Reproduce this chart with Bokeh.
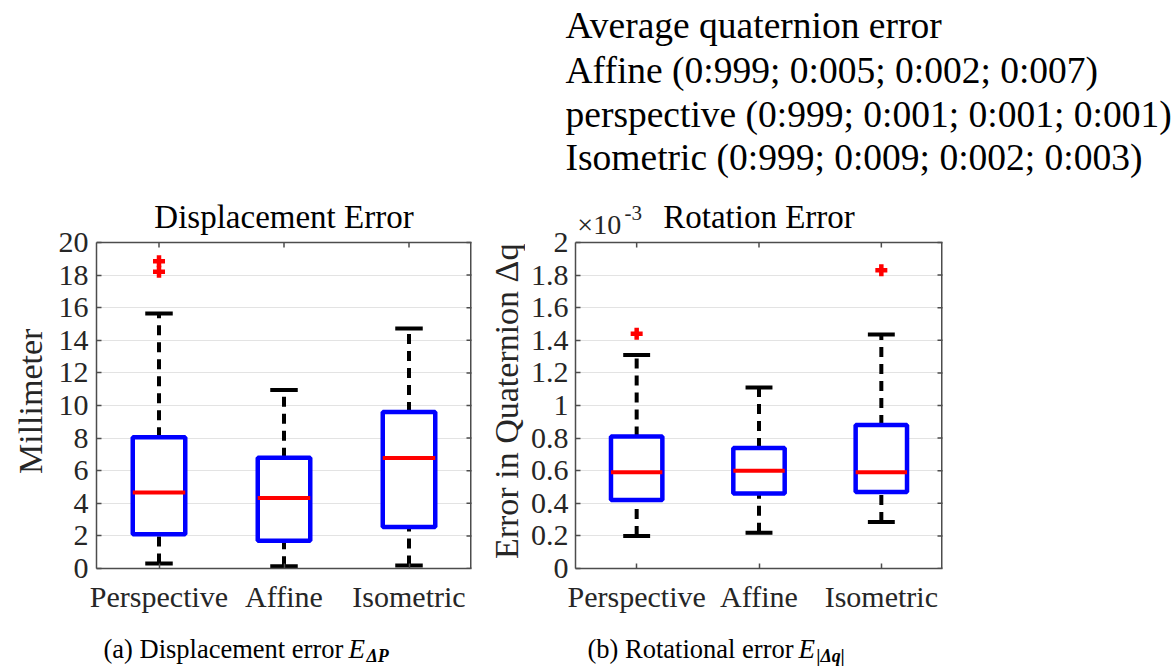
import math
from bokeh.plotting import figure
from bokeh.layouts import column, row
from bokeh.models import Range1d, FixedTicker, CustomJSTickFormatter, ColumnDataSource
from bokeh.core.properties import value
from bokeh.embed import file_html
from bokeh.resources import INLINE

# ---------------- data ----------------
cats = ["Perspective", "Affine", "Isometric"]

# Displacement error (millimeter)
disp_q1 = [2.1, 1.7, 2.55]
disp_med = [4.67, 4.33, 6.78]
disp_q3 = [8.05, 6.8, 9.6]
disp_lo = [0.3, 0.14, 0.18]
disp_hi = [15.65, 10.95, 14.73]
disp_out_cat = ["Perspective", "Perspective"]
disp_out_val = [18.2, 18.85]
disp_ticks = [0, 2, 4, 6, 8, 10, 12, 14, 16, 18, 20]

# Rotation error (values in units of 1e-3)
rot_q1 = [0.42, 0.46, 0.47]
rot_med = [0.59, 0.60, 0.59]
rot_q3 = [0.81, 0.74, 0.88]
rot_lo = [0.20, 0.22, 0.285]
rot_hi = [1.31, 1.11, 1.435]
rot_out_cat = ["Perspective", "Isometric"]
rot_out_val = [1.44, 1.83]
rot_ticks = [0, 0.2, 0.4, 0.6, 0.8, 1.0, 1.2, 1.4, 1.6, 1.8, 2.0]

titles = ["Displacement Error", "Rotation Error"]
ylabels = ["Millimeter", "Error in Quaternion \u0394q"]
info_lines = [
    "Average quaternion error",
    "Affine (0:999; 0:005; 0:002; 0:007)",
    "perspective (0:999; 0:001; 0:001; 0:001)",
    "Isometric (0:999; 0:009; 0:002; 0:003)",
]
captions = ["(a) Displacement error", "(b) Rotational error"]
cap_subs = ["\u0394P", "|\u0394q|"]

FONT = "Liberation Serif"
AX = "#262626"
FR = "#4d4d4d"

TOP_H = 195          # height of the text strip above the plots
FIG_H = 435          # height of each plot figure
BOT = 62             # bottom border of plot figures
BOX_H = 326          # pixel height of the axes box (0..ymax)
FRAME_H = FIG_H - BOT  # frame extends above the box to hold the titles


def strip(width, height, flip=True):
    f = figure(width=width, height=height, x_range=Range1d(0, width),
               y_range=Range1d(height, 0) if flip else Range1d(0, height),
               x_axis_type=None, y_axis_type=None, output_backend="svg",
               toolbar_location=None, min_border=0)
    f.outline_line_color = None
    return f


def ylabel_fig(width, xpos, text):
    f = strip(width, FIG_H, flip=False)
    f.text(x=[xpos], y=[BOT + BOX_H / 2 - 30], text=[text], angle=math.pi / 2,
           text_font=value(FONT), text_font_size="34px", text_baseline="middle",
           text_align="center", text_color=AX)
    return f


def boxplot(title, q1, med, q3, lo, hi, out_cat, out_val, ticks, ymax,
            width, left, right, fmt=None, tick_standoff=8):
    pos = list(range(1, len(cats) + 1))
    top_val = ymax * FRAME_H / BOX_H

    def above(px):  # pixel distance above the box bottom -> data y
        return ymax * px / BOX_H

    p = figure(width=width, height=FIG_H, x_range=Range1d(0.5, 3.5),
               y_range=Range1d(0, top_val), output_backend="svg", toolbar_location=None,
               min_border_left=left, min_border_right=right, min_border_top=0,
               min_border_bottom=BOT)
    p.outline_line_color = None
    p.background_fill_color = "white"
    p.border_fill_color = "white"

    p.xaxis.ticker = FixedTicker(ticks=pos)
    p.xaxis.major_label_overrides = {i: c for i, c in zip(pos, cats)}
    p.yaxis.ticker = FixedTicker(ticks=ticks)
    p.yaxis.bounds = (0, ymax)
    if fmt is not None:
        p.yaxis.formatter = fmt
    for ax in (p.xaxis[0], p.yaxis[0]):
        ax.axis_line_color = FR
        ax.axis_line_width = 1.5
        ax.major_tick_line_color = FR
        ax.major_tick_line_width = 1.5
        ax.major_tick_in = 5
        ax.major_tick_out = 0
        ax.minor_tick_line_color = None
        ax.major_label_text_font = FONT
        ax.major_label_text_font_size = "30px"
        ax.major_label_text_color = AX
    p.xaxis.major_label_standoff = 11
    p.yaxis.major_label_standoff = tick_standoff
    p.xgrid.grid_line_color = None
    p.ygrid.ticker = FixedTicker(ticks=ticks)
    p.ygrid.grid_line_color = "#e3e3e3"
    p.ygrid.grid_line_width = 1

    # box outline (top and right edges; left/bottom are the axis lines)
    p.segment(x0=[0.5], y0=[ymax], x1=[3.5], y1=[ymax], line_color=FR, line_width=1.5)
    p.segment(x0=[3.5], y0=[0], x1=[3.5], y1=[ymax], line_color=FR, line_width=3)
    # tick marks on the right and top edges
    p.scatter(x=[3.5] * len(ticks), y=ticks, marker="dash", size=10, line_color=FR,
              line_width=1.5)
    p.segment(x0=pos, y0=[ymax] * len(pos), x1=pos, y1=[ymax - above(5)] * len(pos),
              line_color=FR, line_width=1.5)

    bw = 0.42
    cw = 0.22
    src = ColumnDataSource(dict(
        x=pos, q1=q1, med=med, q3=q3, lo=lo, hi=hi,
        bl=[x - bw / 2 for x in pos], br=[x + bw / 2 for x in pos],
        cl=[x - cw / 2 for x in pos], cr=[x + cw / 2 for x in pos],
    ))
    # whiskers (dashed)
    p.segment(x0="x", y0="q3", x1="x", y1="hi", source=src, line_color="black",
              line_width=4, line_dash="10 7")
    p.segment(x0="x", y0="lo", x1="x", y1="q1", source=src, line_color="black",
              line_width=4, line_dash="10 7")
    # caps
    p.segment(x0="cl", y0="hi", x1="cr", y1="hi", source=src, line_color="black", line_width=4)
    p.segment(x0="cl", y0="lo", x1="cr", y1="lo", source=src, line_color="black", line_width=4)
    # boxes
    p.vbar(x="x", width=bw, bottom="q1", top="q3", source=src, fill_color="white",
           line_color="#0000ff", line_width=4.5)
    # medians
    p.segment(x0="bl", y0="med", x1="br", y1="med", source=src, line_color="#ff0000",
              line_width=4)
    # outliers
    ox = [cats.index(c) + 1 for c in out_cat]
    p.scatter(x=ox, y=out_val, marker="cross", size=12, line_color="#ff0000", line_width=4.5)

    # title above the box
    p.text(x=[2.0], y=[above(352)], text=[title], text_font=value(FONT),
           text_font_size="33px", text_baseline="middle", text_align="center",
           text_color="black")
    return p, above


left, _ = boxplot(titles[0], disp_q1, disp_med, disp_q3, disp_lo, disp_hi,
                  disp_out_cat, disp_out_val, disp_ticks, 20, 430, 46, 9)

rot_fmt = CustomJSTickFormatter(code="return Number(tick.toFixed(1)).toString();")
right, r_above = boxplot(titles[1], rot_q1, rot_med, rot_q3, rot_lo, rot_hi,
                         rot_out_cat, rot_out_val, rot_ticks, 2, 651, 50, 234,
                         fmt=rot_fmt, tick_standoff=7)
# exponent of the rotation axis
right.text(x=[0.515], y=[r_above(344)], text=["\u00d710"], text_font=value(FONT),
           text_font_size="28px", text_baseline="middle", text_color=AX)
right.text(x=[0.9], y=[r_above(356)], text=["-3"], text_font=value(FONT),
           text_font_size="21px", text_baseline="middle", text_color=AX)

lab_left = ylabel_fig(50, 30, ylabels[0])
lab_right = ylabel_fig(45, 26, ylabels[1])

# ---------------- top text strip ----------------
top = strip(1176, TOP_H)
top.text(x=[565] * 4, y=[25, 70, 114, 157], text=info_lines, text_font=value(FONT),
         text_font_size="37.5px", text_baseline="middle", text_align="left",
         text_color="black")

# ---------------- caption strip ----------------
cap = strip(1176, 39)
cap.text(x=[103, 587], y=[18, 18], text=captions,
         text_font=value(FONT), text_font_size="26.5px", text_baseline="middle",
         text_color="black")
cap.text(x=[348, 798], y=[18, 18], text=["E", "E"], text_font=value(FONT),
         text_font_size="27px", text_font_style="italic", text_baseline="middle",
         text_color="black")
cap.text(x=[366, 816], y=[25, 25], text=cap_subs, text_font=value(FONT),
         text_font_size="18px", text_font_style="bold italic", text_baseline="middle",
         text_color="black")

layout = column(top, row(lab_left, left, lab_right, right), cap)
open("out.html", "w").write(file_html(layout, INLINE))
